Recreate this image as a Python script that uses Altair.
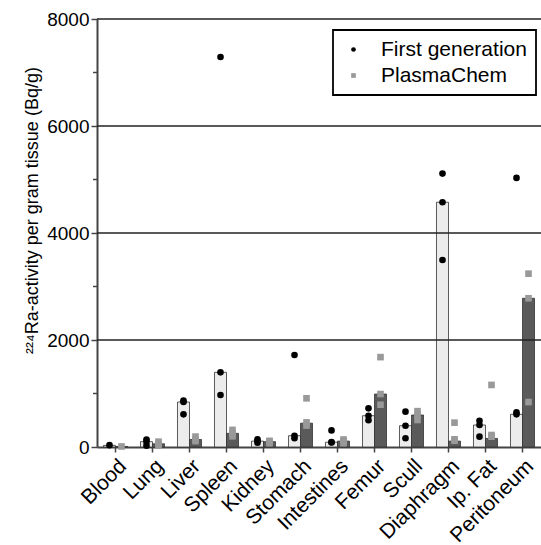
import altair as alt
import pandas as pd

organs = ["Blood", "Lung", "Liver", "Spleen", "Kidney", "Stomach", "Intestines",
          "Femur", "Scull", "Diaphragm", "Ip. Fat", "Peritoneum"]
series = ["First generation", "PlasmaChem"]

# individual measurements (Bq/g)
fg_points = [
    [35], [140, 100, 25], [866, 841, 611], [7290, 1396, 972], [145, 110, 80],
    [1720, 211, 163], [310, 90, 85], [723, 585, 500], [660, 398, 163],
    [5110, 4575, 3495], [490, 411, 193], [5030, 648, 611],
]
pc_points = [
    [10], [100, 60, 30], [195, 140, 110], [320, 255, 200], [115, 100, 70],
    [910, 460, 400], [140, 110, 70], [1680, 990, 790], [670, 598, 505],
    [455, 144, 118], [1160, 224, 193], [3240, 2780, 840],
]
# bar heights (medians)
fg_bar = [30, 100, 841, 1396, 110, 211, 90, 585, 398, 4575, 411, 611]
pc_bar = [10, 60, 140, 255, 100, 445, 110, 990, 598, 110, 160, 2780]

y_major = [0, 2000, 4000, 6000, 8000]
y_minor = [1000, 3000, 5000, 7000]
grid_vals = [2000, 4000, 6000, 8000]

Y_MAX = 8000
PLOT_H = 428
PX = PLOT_H / Y_MAX

bars_df = pd.DataFrame(
    [{"organ": o, "series": series[0], "value": v} for o, v in zip(organs, fg_bar)]
    + [{"organ": o, "series": series[1], "value": v} for o, v in zip(organs, pc_bar)]
)

# spread overlapping points sideways (layout only)
OFFS = {1: [0], 2: [-4, 4], 3: [-7, 0, 7]}
rows = []
for s, pts in zip(series, [fg_points, pc_points]):
    for o, vals in zip(organs, pts):
        vs = sorted(vals, reverse=True)
        clusters = [[vs[0]]]
        for v in vs[1:]:
            if (clusters[-1][-1] - v) * PX < 3:
                clusters[-1].append(v)
            else:
                clusters.append([v])
        for c in clusters:
            for v, d in zip(c, OFFS[len(c)]):
                rows.append({"organ": o, "series": s, "value": v, "dx": d})
pts_df = pd.DataFrame(rows)

FONT = "Liberation Sans"

x_enc = alt.X("organ:N", sort=organs,
              scale=alt.Scale(paddingInner=0, paddingOuter=0),
              axis=alt.Axis(title=None, labelAngle=-45, labelFontSize=21,
                            labelColor="black", tickSize=5, tickColor="#444",
                            tickWidth=1.5, domainColor="#444", domainWidth=2,
                            labelPadding=3))
xo_enc = alt.XOffset("series:N", sort=series,
                     scale=alt.Scale(paddingInner=0, paddingOuter=0.54))

y_enc = alt.Y("value:Q", scale=alt.Scale(domain=[0, Y_MAX], nice=False),
              axis=alt.Axis(values=y_major, format="d",
                            title="²²⁴Ra-activity per gram tissue (Bq/g)",
                            grid=False, tickSize=6, tickColor="#444", tickWidth=1.5,
                            domainColor="#444", domainWidth=2, labelFontSize=19,
                            labelColor="black", titleFontSize=18, titleFontWeight="normal",
                            titleColor="black", labelPadding=2,
                            titleX=-60, titleY=191, titleAngle=270,
                            titleAlign="center", titleBaseline="alphabetic"))

bars = alt.Chart(bars_df).mark_bar(stroke="#333", strokeWidth=0.8).encode(
    x=x_enc,
    xOffset=xo_enc,
    y=y_enc,
    fill=alt.condition(f"datum.series == '{series[0]}'", alt.value("#ececec"), alt.value("#5a5a5a")),
)

grid = alt.Chart(pd.DataFrame({"value": grid_vals})).mark_rule(
    color="#222", strokeWidth=1.3).encode(y=y_enc)

minor = alt.Chart(pd.DataFrame({"value": y_minor})).mark_rule(
    color="#444", strokeWidth=1.5).encode(
    y=y_enc, x=alt.value(-4), x2=alt.value(0))

leg = alt.Legend(title=None, orient="none", legendX=236, legendY=11,
                 strokeColor="black", fillColor="white", padding=9,
                 labelFontSize=21, labelColor="black", symbolSize=22,
                 symbolOffset=1, labelOffset=17, rowPadding=4,
                 symbolStrokeWidth=0)
color_enc = alt.Color("series:N", scale=alt.Scale(domain=series, range=["black", "#999999"]),
                      legend=leg)
shape_enc = alt.Shape("series:N", scale=alt.Scale(domain=series, range=["circle", "square"]),
                      legend=leg)

point_layers = []
for d in sorted(pts_df["dx"].unique()):
    sub = pts_df[pts_df["dx"] == d]
    point_layers.append(
        alt.Chart(sub).mark_point(filled=True, size=44, opacity=1, dx=float(d)).encode(
            x=alt.X("organ:N", sort=organs),
            xOffset=alt.XOffset("series:N", sort=series),
            y=y_enc,
            color=color_enc,
            shape=shape_enc,
        )
    )

chart = alt.layer(bars, grid, minor, *point_layers).properties(
    width=444, height=428, autosize="none",
    padding={"left": 97, "top": 19, "right": 0, "bottom": 98},
).configure(font=FONT).configure_view(stroke=None).configure_legend(strokeWidth=1.8)

chart.save("out.html", embed_options={"renderer": "svg", "actions": False})
